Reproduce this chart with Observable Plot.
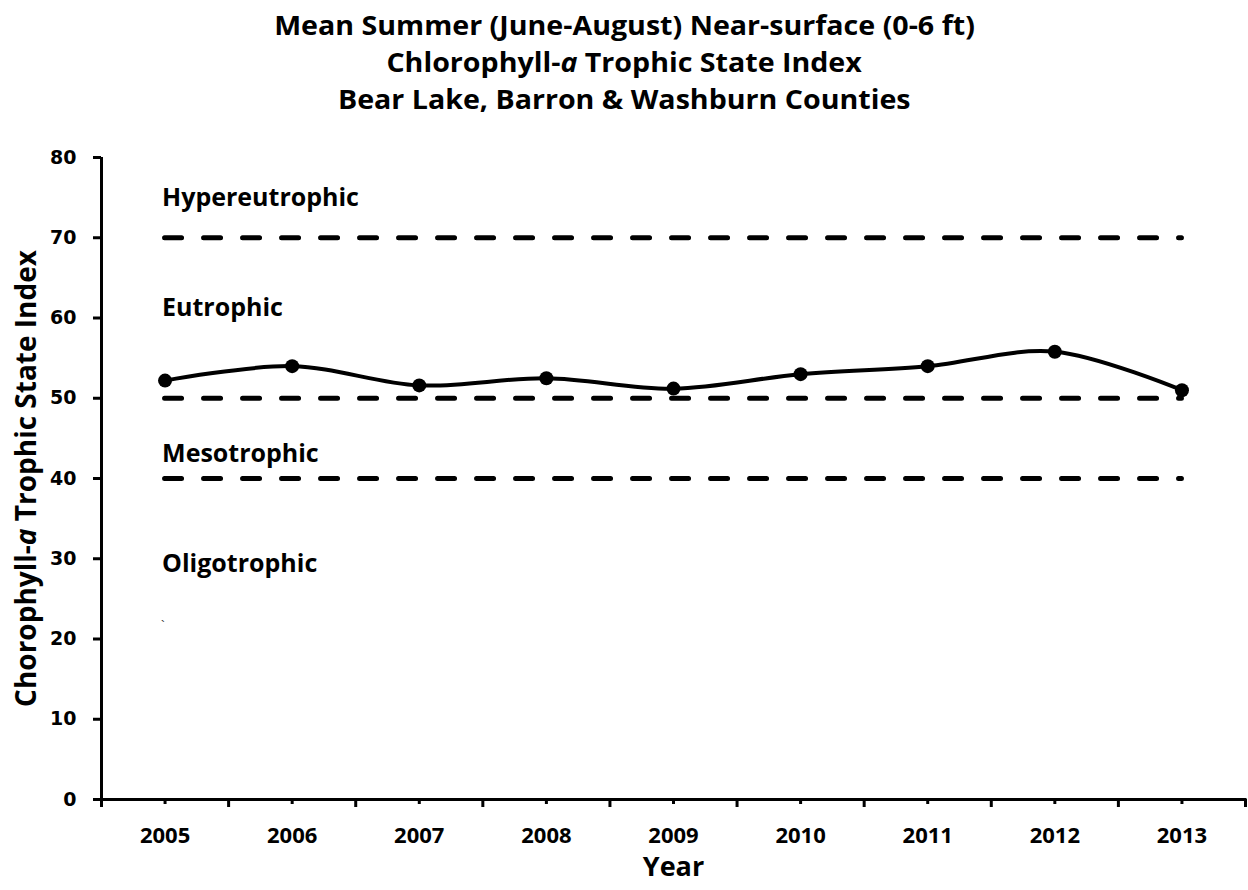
<!DOCTYPE html>
<html><head><meta charset="utf-8">
<script src="https://cdn.jsdelivr.net/npm/d3@7"></script>
<script src="https://cdn.jsdelivr.net/npm/@observablehq/plot@0.6"></script>
<style>
body{margin:0;background:#fff;}
#title{height:120px;box-sizing:border-box;padding-top:7px;text-align:center;font:bold 26px/37px "Open Sans";color:#000;}
#title span{display:inline-block;transform:scaleX(1.1);transform-origin:center;}
</style></head><body>
<div id="title"><span>Mean Summer (June-August) Near-surface (0-6 ft)</span><br><span>Chlorophyll-<i>a</i> Trophic State Index</span><br><span>Bear Lake, Barron &amp; Washburn Counties</span></div>
<div id="chart"></div>
<script>
const years = [2005, 2006, 2007, 2008, 2009, 2010, 2011, 2012, 2013];
const tsi = [52.2, 54.0, 51.6, 52.5, 51.2, 53.0, 54.0, 55.8, 51.0];
const thresholds = [70, 50, 40];
const zoneNames = ["Hypereutrophic", "Eutrophic", "Mesotrophic", "Oligotrophic"];
const zoneLabelY = [74.0, 60.3, 42.1, 28.3];
const yTicks = [0, 10, 20, 30, 40, 50, 60, 70, 80];
const yLabel = "Chorophyll-a Trophic State Index";
const xLabel = "Year";
const stray = ["`"];
const strayY = [22.3];

const data = years.map((y, i) => ({year: y, tsi: tsi[i]}));
const boundaries = d3.range(years.length + 1).map(i => years[0] - 0.5 + i);
const noLabel = () => "";

const plot = Plot.plot({
  width: 1248, height: 770,
  marginTop: 37, marginBottom: 91, marginLeft: 101, marginRight: 3,
  x: {type: "linear", domain: [years[0] - 0.5, years[years.length - 1] + 0.5]},
  y: {domain: [0, 80]},
  style: {fontFamily: "Open Sans", color: "#000", background: "#fff", overflow: "visible"},
  marks: [
    Plot.ruleY(thresholds, {x1: years[0], x2: years[years.length - 1], stroke: "#000", strokeWidth: 5, strokeDasharray: "17,22", strokeLinecap: "round"}),
    Plot.lineY(data, {x: "year", y: "tsi", curve: "catmull-rom", stroke: "#000", strokeWidth: 4}),
    Plot.dot(data, {x: "year", y: "tsi", r: 7, fill: "#000", stroke: null}),
    Plot.text(zoneNames, {x: () => years[0], y: (d, i) => zoneLabelY[i], text: d => d, textAnchor: "start", lineAnchor: "bottom", dx: -3, fontSize: 25, fontWeight: "bold", fill: "#000"}),
    Plot.text(stray, {x: () => years[0], y: (d, i) => strayY[i], text: d => d, textAnchor: "start", lineAnchor: "top", dx: -4, fontSize: 13, fill: "#333"}),
    Plot.axisY({ticks: yTicks, tickSize: 8, strokeWidth: 3, tickFormat: noLabel, label: null}),
    Plot.text(yTicks, {y: d => d, text: d => String(d), frameAnchor: "left", textAnchor: "end", lineAnchor: "middle", dx: -25, fontFamily: "DejaVu Sans", fontSize: 19, fontWeight: "bold", fill: "#000"}),
    Plot.axisX({ticks: boundaries, tickSize: 8, strokeWidth: 3, tickFormat: noLabel, label: null}),
    Plot.axisX({ticks: years, tickSize: 5, strokeWidth: 3, tickFormat: noLabel, label: null}),
    Plot.text(years, {x: d => d, text: d => String(d), frameAnchor: "bottom", textAnchor: "middle", lineAnchor: "bottom", dy: 43, fontSize: 22, fontWeight: "bold", fill: "#000"}),
    Plot.ruleX([years[0] - 0.5], {y1: 0, y2: 80, stroke: "#000", strokeWidth: 3}),
    Plot.ruleY([0], {stroke: "#000", strokeWidth: 3, strokeLinecap: "square"}),
    Plot.text([yLabel], {frameAnchor: "left", textAnchor: "middle", rotate: -90, dx: -66, lineAnchor: "bottom", fontSize: 28, fontWeight: "bold", fill: "#000"}),
    Plot.text([xLabel], {frameAnchor: "bottom", textAnchor: "middle", dy: 76, lineAnchor: "bottom", fontSize: 27, fontWeight: "bold", fill: "#000"})
  ]
});
document.getElementById("chart").appendChild(plot);
// italicize the "a" in the y-axis label
plot.querySelectorAll("text").forEach(t => {
  if (t.textContent === yLabel) {
    t.innerHTML = 'Chorophyll-<tspan font-style="italic">a</tspan> Trophic State Index';
  }
});
</script>
</body></html>
